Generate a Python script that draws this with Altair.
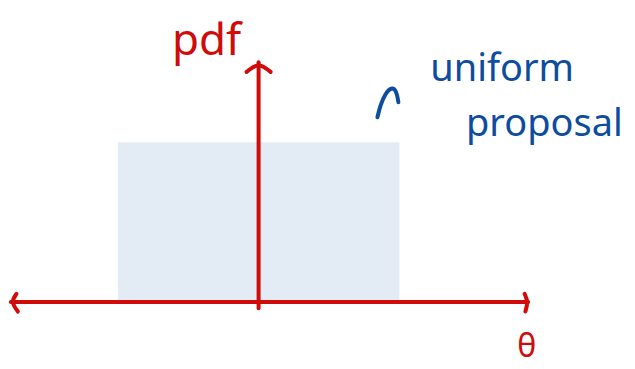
import altair as alt
import pandas as pd

# uniform proposal support and density
uniform_low = -1.0
uniform_high = 1.0
uniform_pdf = 0.5

# axes (theta / pdf units)
theta_axis = [-1.76, 1.915]
pdf_axis = [-0.02, 0.75]

# arrow head strokes: (path id, order, theta, pdf)
head_path = ["v", "v", "v", "l", "l", "l", "r", "r", "r"]
head_order = [0, 1, 2, 0, 1, 2, 0, 1, 2]
head_theta = [-0.085, 0.0, 0.085, -1.72, -1.76, -1.71, 1.89, 1.915, 1.895]
head_pdf = [0.72, 0.75, 0.72, 0.025, 0.0, -0.03, 0.025, 0.0, -0.03]

# small hand-drawn pointer towards the label
hook_theta = [0.844, 0.865, 0.901, 0.943, 0.979, 0.993]
hook_pdf = [0.578, 0.616, 0.653, 0.672, 0.6625, 0.625]

labels = ["pdf", "θ", "uniform", "proposal"]
label_theta = [-0.37, 1.905, 1.73, 2.03]
label_pdf = [0.815, -0.14, 0.725, 0.555]
label_color = ["#d10a0a", "#d10a0a", "#0d4c9e", "#0d4c9e"]
label_size = [44, 32, 38, 38]

RED = "#d10a0a"
BLUE = "#0d4c9e"

xs = alt.Scale(domain=[-1.773, 2.617], nice=False, zero=False)
ys = alt.Scale(domain=[-0.184, 0.919], nice=False, zero=False)

rect_df = pd.DataFrame({"x": [uniform_low], "x2": [uniform_high], "y": [0.0], "y2": [uniform_pdf]})
rect = alt.Chart(rect_df).mark_rect(color="#e3ecf5").encode(
    x=alt.X("x:Q", scale=xs, axis=None), x2="x2", y=alt.Y("y:Q", scale=ys, axis=None), y2="y2"
)

haxis_df = pd.DataFrame({"x": [theta_axis[0]], "x2": [theta_axis[1]], "y": [0.0]})
haxis = alt.Chart(haxis_df).mark_rule(color=RED, strokeWidth=4, strokeCap="round").encode(
    x=alt.X("x:Q", scale=xs, axis=None), x2="x2", y=alt.Y("y:Q", scale=ys, axis=None)
)
vaxis_df = pd.DataFrame({"x": [0.0], "y": [pdf_axis[0]], "y2": [pdf_axis[1]]})
vaxis = alt.Chart(vaxis_df).mark_rule(color=RED, strokeWidth=4, strokeCap="round").encode(
    x=alt.X("x:Q", scale=xs, axis=None), y=alt.Y("y:Q", scale=ys, axis=None), y2="y2"
)

heads_df = pd.DataFrame({"p": head_path, "o": head_order, "x": head_theta, "y": head_pdf})
heads = alt.Chart(heads_df).mark_line(color=RED, strokeWidth=4, strokeCap="round",
                                      strokeJoin="round", interpolate="basis").encode(
    x=alt.X("x:Q", scale=xs, axis=None), y=alt.Y("y:Q", scale=ys, axis=None),
    detail="p:N", order="o:Q"
)

hook_df = pd.DataFrame({"x": hook_theta, "y": hook_pdf, "o": list(range(len(hook_theta)))})
hook = alt.Chart(hook_df).mark_line(color=BLUE, strokeWidth=4, strokeCap="round",
                                    strokeJoin="round", interpolate="basis").encode(
    x=alt.X("x:Q", scale=xs, axis=None), y=alt.Y("y:Q", scale=ys, axis=None), order="o:Q"
)

lab_df = pd.DataFrame({"t": labels, "x": label_theta, "y": label_pdf,
                       "c": label_color, "s": label_size})
texts = alt.Chart(lab_df).mark_text(font="Noto Sans", align="center", baseline="middle").encode(
    x=alt.X("x:Q", scale=xs, axis=None), y=alt.Y("y:Q", scale=ys, axis=None),
    text="t:N", color=alt.Color("c:N", scale=None),
    size=alt.Size("s:Q", scale=None)
)

chart = alt.layer(rect, haxis, vaxis, heads, hook, texts).properties(
    width=619, height=353, background="white",
    padding={"left": 0, "top": 0, "right": 0, "bottom": 8}
).configure_view(stroke=None)

chart.save("out.html", embed_options={"renderer": "svg", "actions": False})
